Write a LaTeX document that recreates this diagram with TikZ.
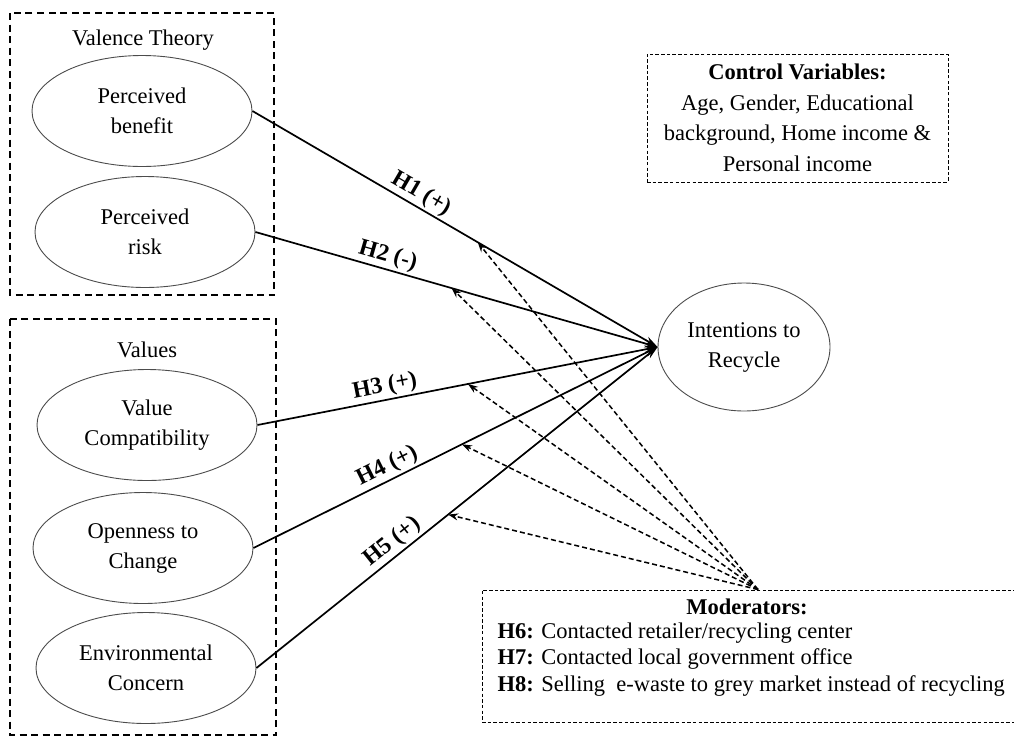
\documentclass[tikz,border=0pt]{standalone}
\usepackage{fontspec}
\setmainfont{Liberation Serif}
\usetikzlibrary{shapes.geometric,arrows.meta}
\begin{document}
\begin{tikzpicture}[x=1pt,y=-1pt,
  every node/.style={font=\fontsize{22.5}{30}\selectfont},
  construct/.style={ellipse, draw=black!70, line width=0.9pt, inner sep=0pt,
    minimum width=220pt, minimum height=111pt, align=center},
  groupbox/.style={draw, line width=1.6pt, dash pattern=on 7pt off 4.5pt},
  infobox/.style={draw, line width=0.9pt, dash pattern=on 3.5pt off 2.2pt},
  hpath/.style={line width=1.7pt, -{Stealth[length=13pt,width=8pt]}},
  hyp/.style={font=\bfseries\fontsize{23.5}{26}\selectfont, sloped, above, inner sep=2pt},
  modarrow/.style={line width=1.5pt, dash pattern=on 5pt off 3pt,
    -{Stealth[length=10pt,width=7pt]}},
]
\useasboundingbox (0,0) rectangle (1014,737);

% group boxes
\draw[groupbox] (10,13) rectangle (274,295);
\draw[groupbox] (10,319) rectangle (276,735);
\node (vt) at (143,40) {Valence Theory};
\node (val) at (147,350) {Values};

% constructs
\node[construct] (pb) at (142,111) {Perceived\\benefit};
\node[construct] (pr) at (145,232) {Perceived\\risk};
\node[construct] (vc) at (147,425) {Value\\Compatibility};
\node[construct] (oc) at (143,548) {Openness to\\Change};
\node[construct] (ec) at (146,668) {Environmental\\Concern};
\node[construct, minimum width=172pt, minimum height=128pt] (ir) at (744,347) {Intentions to\\Recycle};

% control variables
\node[infobox, minimum width=301pt, minimum height=128pt, align=center, inner sep=0pt,
  font=\fontsize{22.5}{30.5}\selectfont] (ctrl) at (797.5,118)
  {\textbf{Control Variables:}\\Age, Gender, Educational\\background, Home income \&\\Personal income};

% moderators
\node[infobox, minimum width=552pt, minimum height=132pt] (mod) at (758,656) {};
\node[font=\bfseries\fontsize{22.5}{26}\selectfont] (modt) at (747,607) {Moderators:};
\node[anchor=west] (h6) at (494,633) {\textbf{H6:} Contacted retailer/recycling center};
\node[anchor=west] (h7) at (494,659) {\textbf{H7:} Contacted local government office};
\node[anchor=west] (h8) at (494,686) {\textbf{H8:} Selling\ \ e-waste to grey market instead of recycling};

% hypotheses
\draw[hpath] (pb.east) -- node[hyp, pos=0.40] {H1 (+)} coordinate[pos=0.556] (t1) (ir.west);
\draw[hpath] (pr.east) -- node[hyp, pos=0.32] {H2 (-)} coordinate[pos=0.488] (t2) (ir.west);
\draw[hpath] (vc.east) -- node[hyp, pos=0.325] {H3 (+)} coordinate[pos=0.526] (t3) (ir.west);
\draw[hpath] (oc.east) -- node[hyp, pos=0.346] {H4 (+)} coordinate[pos=0.516] (t4) (ir.west);
\draw[hpath] (ec.east) -- node[hyp, pos=0.36] {H5 (+)} coordinate[pos=0.478] (t5) (ir.west);

% moderating effects
\foreach \t in {t1,t2,t3,t4,t5}
  \draw[modarrow] (mod.north) -- (\t);
\end{tikzpicture}
\end{document}
